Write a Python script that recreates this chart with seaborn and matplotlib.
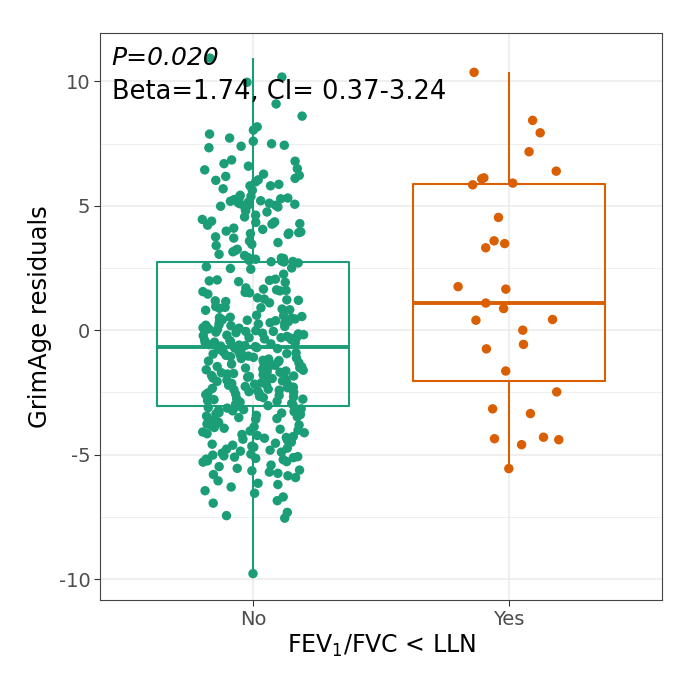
import numpy as np
import pandas as pd
import matplotlib
matplotlib.use("Agg")
import matplotlib.pyplot as plt
from matplotlib.ticker import MultipleLocator
import seaborn as sns

# ---- data ----
categories = ["No", "Yes"]
colors = ["#1B9E77", "#D95F02"]

no_top = [10.93, 10.17, 9.96, 9.09, 8.60, 8.17, 8.04, 7.88, 7.72, 7.59, 7.49, 7.43, 7.39, 7.33,
          6.84, 6.79, 6.69, 6.59, 6.49, 6.44, 6.27, 6.22, 6.18, 6.04, 6.10, 6.02,
          5.96, 5.86, 5.80, 5.80, 5.68, 5.62, 5.42, 5.38, 5.35, 5.31, 5.28, 5.25,
          5.20, 5.18, 5.15, 5.12, 5.10, 5.08, 5.05, 5.02, 5.00, 5.06, 4.98, 4.95,
          4.85, 4.80, 4.75, 4.62, 4.55, 4.45, 4.38, 4.35, 4.33, 4.30, 4.28, 4.26, 4.22,
          4.10, 4.05, 3.98, 3.95, 3.92, 3.90, 3.88, 3.85, 3.75, 3.70, 3.58, 3.52, 3.45, 3.40,
          3.25, 3.20, 3.15, 3.05, 3.00, 2.92, 2.90, 2.88, 2.85, 2.80, 2.78, 2.76, 2.75]
no_upper_mid = [2.74, 2.70, 2.55, 2.50, 2.48, 2.45, 2.25, 2.05, 2.02, 2.00, 1.98, 1.95, 1.92,
                1.70, 1.65, 1.62, 1.60, 1.58, 1.55, 1.52, 1.50, 1.45,
                1.30, 1.25, 1.22, 1.20, 1.18, 1.15, 1.10,
                0.95, 0.92, 0.90, 0.88, 0.85, 0.82, 0.80,
                0.60, 0.58, 0.55, 0.52, 0.50, 0.48, 0.45, 0.42, 0.40, 0.38,
                0.35, 0.32, 0.30, 0.28, 0.25, 0.22, 0.20, 0.18, 0.15, 0.12,
                0.10, 0.08, 0.05, 0.03, 0.00, -0.02, -0.05, -0.05, -0.08, -0.10,
                -0.12, -0.15, -0.18, -0.20, -0.22, -0.25, -0.28, -0.30, -0.30, -0.32,
                -0.35, -0.38, -0.40, -0.42, -0.45, -0.48, -0.50, -0.52, -0.55, -0.58,
                -0.60, -0.62, -0.64, -0.66]
no_lower_mid = [-0.70, -0.71, -0.74, -0.77, -0.79, -0.83, -0.86, -0.87, -0.91, -0.94,
                -0.96, -0.97, -1.01, -1.04, -1.06, -1.09, -1.12, -1.14, -1.16, -1.21,
                -1.22, -1.24, -1.27, -1.31, -1.32, -1.36, -1.37, -1.41, -1.44, -1.46,
                -1.47, -1.51, -1.52, -1.56, -1.59, -1.61, -1.64, -1.66, -1.69, -1.71,
                -1.74, -1.76, -1.79, -1.82, -1.84, -1.86, -1.89, -1.92, -1.94, -1.97,
                -1.99, -2.01, -2.04, -2.06, -2.09, -2.11, -2.14, -2.17, -2.19, -2.21,
                -2.24, -2.26, -2.29, -2.31, -2.34, -2.37, -2.39, -2.41, -2.44, -2.47,
                -2.49, -2.52, -2.54, -2.57, -2.59, -2.62, -2.66, -2.68, -2.71, -2.74,
                -2.77, -2.79, -2.83, -2.86, -2.89, -2.92, -2.94, -2.97, -3.00, -3.03]
no_bottom = [-3.08, -3.11, -3.13, -3.16, -3.19, -3.22, -3.24, -3.27, -3.31, -3.33,
             -3.36, -3.39, -3.42, -3.45, -3.48, -3.51, -3.55, -3.58, -3.61, -3.64,
             -3.67, -3.71, -3.74, -3.77, -3.81, -3.84, -3.88, -3.91, -3.94, -3.98,
             -4.02, -4.05, -4.09, -4.12, -4.16, -4.19, -4.23, -4.27, -4.31, -4.34,
             -4.38, -4.42, -4.46, -4.50, -4.54, -4.58, -4.62, -4.66, -4.70, -4.74,
             -4.78, -4.82, -4.86, -4.90, -4.94, -4.98,
             -5.02, -5.05, -5.08, -5.10, -5.12, -5.15, -5.18, -5.20, -5.25, -5.28, -5.30,
             -5.42, -5.48, -5.55, -5.62, -5.65, -5.70, -5.75, -5.80, -5.85, -5.92, -6.05, -6.15, -6.30,
             -6.20, -6.45, -6.55, -6.70, -6.85, -6.95, -7.32, -7.45, -7.55, -9.78]

yes_values = [10.36, 8.43, 7.93, 7.17, 6.39, 6.12, 6.08, 5.84, 5.91, 4.53, 3.59, 3.48, 3.31,
              1.75, 1.65, 1.09, 0.87, 0.43, 0.40, 0.00, -0.57, -0.75, -1.64, -2.48, -3.16,
              -3.35, -4.30, -4.36, -4.40, -4.60, -5.56]

no_values = no_top + no_upper_mid + no_lower_mid + no_bottom

y_ticks = [-10, -5, 0, 5, 10]
annot_p = "P=0.020"
annot_beta = "Beta=1.74, CI= 0.37-3.24"
y_label = "GrimAge residuals"
x_label = r"FEV$_1$/FVC < LLN"

df = pd.DataFrame({
    "group": [categories[0]] * len(no_values) + [categories[1]] * len(yes_values),
    "value": no_values + yes_values,
})

sns.set_theme(style="white")
plt.rcParams["font.family"] = ["DejaVu Sans"]
plt.rcParams["axes.unicode_minus"] = False

fig = plt.figure(figsize=(6.93, 6.92), dpi=100)
ax = fig.add_axes([100 / 693, 1 - 600 / 692, 562 / 693, 567 / 692])

pal = dict(zip(categories, colors))
sns.boxplot(data=df, x="group", y="value", hue="group", palette=pal, order=categories,
            fill=False, width=0.75, showfliers=False, showcaps=False, linewidth=1.5,
            medianprops={"linewidth": 2.8}, legend=False, ax=ax, zorder=2)
np.random.seed(7)
sns.stripplot(data=df, x="group", y="value", hue="group", palette=pal, order=categories,
              jitter=0.2, size=6.8, linewidth=0, alpha=1, legend=False, ax=ax, zorder=3)

ax.set_xlim(-0.6, 1.6)
ax.set_ylim(-10.84, 11.94)
ax.set_yticks(y_ticks)
ax.yaxis.set_minor_locator(MultipleLocator(2.5))
ax.set_axisbelow(True)
ax.grid(which="major", color="#EBEBEB", linewidth=1.1)
ax.grid(which="minor", axis="y", color="#EBEBEB", linewidth=0.55)
ax.tick_params(axis="both", which="major", length=4, width=0.8, color="#333333",
               labelsize=14, labelcolor="#4D4D4D", pad=3, direction="out",
               left=True, bottom=True)
ax.tick_params(which="minor", length=0)
for s in ax.spines.values():
    s.set_color("#444444")
    s.set_linewidth(0.8)

ax.set_xlabel(x_label, fontsize=17, color="black", labelpad=3)
ax.set_ylabel(y_label, fontsize=17.5, color="black", labelpad=5)

ax.text(0.021, 0.956, annot_p, transform=ax.transAxes, fontsize=18, style="italic",
        ha="left", va="center", color="black")
ax.text(0.021, 0.896, annot_beta, transform=ax.transAxes, fontsize=18.5,
        ha="left", va="center", color="black")

fig.savefig("out.png", dpi=100, facecolor="white")
